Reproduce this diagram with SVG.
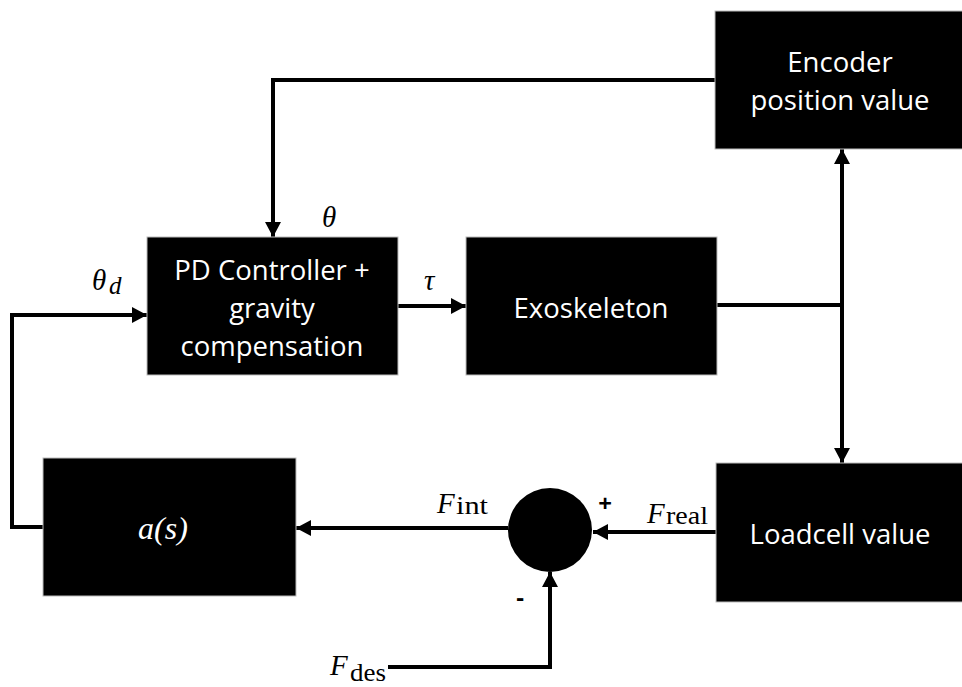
<svg xmlns="http://www.w3.org/2000/svg" width="962" height="687" viewBox="0 0 962 687">
<style>
.box{fill:#000;stroke:#bbb;stroke-width:1}
.t{font-family:"Open Sans","Liberation Sans",sans-serif;font-size:27.5px;fill:#fff;text-anchor:middle}
.m{font-family:"Liberation Serif","DejaVu Serif",serif;font-style:italic;font-size:29px;fill:#000}
.sub{font-family:"Liberation Serif","DejaVu Serif",serif;font-style:normal;font-size:25px;fill:#000}
.w{stroke:#000;stroke-width:4;fill:none}
.s{font-family:"Open Sans","Liberation Sans",sans-serif;font-weight:bold;font-size:24px;fill:#000;text-anchor:middle}
</style>
<defs>
<marker id="ah" markerUnits="userSpaceOnUse" markerWidth="16" markerHeight="16" refX="15" refY="8" orient="auto">
<path d="M0,0 L15,8 L0,16 Z" fill="#000"/>
</marker>
</defs>
<g id="connectors">
<path class="w" d="M715,80 H273 V237" marker-end="url(#ah)"/>
<path class="w" d="M43,527 H12 V315 H147" marker-end="url(#ah)"/>
<path class="w" d="M398,306 H466" marker-end="url(#ah)"/>
<path class="w" d="M717,305 H842"/>
<path class="w" d="M842,305 V149" marker-end="url(#ah)"/>
<path class="w" d="M842,305 V463" marker-end="url(#ah)"/>
<path class="w" d="M716,532 H593" marker-end="url(#ah)"/>
<path class="w" d="M508,528 H296" marker-end="url(#ah)"/>
<path class="w" d="M388,667 H550 V572" marker-end="url(#ah)"/>
</g>
<g id="pd">
<rect class="box" x="147" y="237" width="251" height="138"/>
<text class="t" x="272" y="280">PD Controller +</text>
<text class="t" x="272" y="318">gravity</text>
<text class="t" x="272" y="356">compensation</text>
</g>
<g id="exo">
<rect class="box" x="466" y="237" width="251" height="138"/>
<text class="t" x="591" y="318">Exoskeleton</text>
</g>
<g id="encoder">
<rect class="box" x="715" y="11" width="250" height="138"/>
<text class="t" x="840" y="72">Encoder</text>
<text class="t" x="840" y="110">position value</text>
</g>
<g id="loadcell">
<rect class="box" x="716" y="463" width="250" height="139"/>
<text class="t" x="840" y="544">Loadcell value</text>
</g>
<g id="as">
<rect class="box" x="43" y="458" width="253" height="138"/>
<text class="t" x="163" y="539" style="font-family:'Liberation Serif','DejaVu Serif',serif;font-style:italic;font-size:32px">a(s)</text>
</g>
<g id="sum">
<circle cx="550" cy="530" r="42" fill="#000"/>
</g>
<g id="labels">
<text class="m" x="322" y="227">θ</text>
<text class="m" x="424" y="290">τ</text>
<text class="m" x="92" y="290">θ</text>
<text class="m" x="109" y="294" style="font-size:25px">d</text>
<text class="m" x="437" y="513">F</text>
<text class="sub" x="456" y="514" textLength="32" lengthAdjust="spacingAndGlyphs">int</text>
<text class="m" x="647" y="523">F</text>
<text class="sub" x="666" y="524" textLength="42" lengthAdjust="spacingAndGlyphs">real</text>
<text class="m" x="330" y="675">F</text>
<text class="sub" x="350" y="681" textLength="36" lengthAdjust="spacingAndGlyphs">des</text>
<text class="s" x="605" y="512">+</text>
<text class="s" x="520" y="606">-</text>
</g>
</svg>
